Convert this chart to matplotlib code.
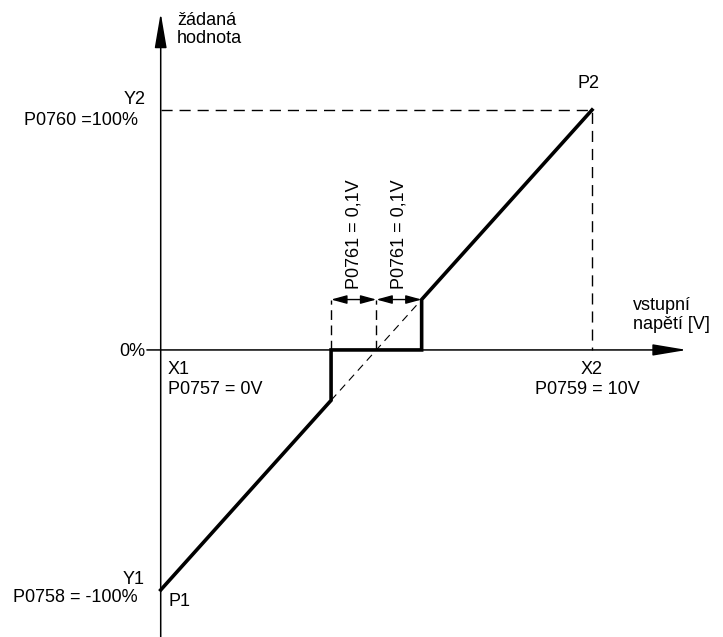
import matplotlib
matplotlib.use('Agg')
import matplotlib.pyplot as plt

plt.rcParams['font.family'] = ['Liberation Sans', 'DejaVu Sans']

# characteristic (x in V, y in %)
x_min, x_max = 0.0, 10.0          # P0757, P0759
y_min, y_max = -100.0, 100.0      # P0758, P0760
db_center = 5.0                   # dead band centre (drawn, schematic)
db_half = 1.05                    # drawn half width of dead band
db_label = 'P0761 = 0,1V'

x_curve = [x_min, db_center - db_half, db_center - db_half,
           db_center + db_half, db_center + db_half, x_max]
y_curve = [y_min, y_min + 20 * (db_center - db_half), 0.0,
           0.0, y_min + 20 * (db_center + db_half), y_max]

fig = plt.figure(figsize=(7.23, 6.37), dpi=100)
ax = fig.add_axes([0, 0, 1, 1])
ax.set_xlim(-3.726, 13.037)
ax.set_ylim(-119.6, 145.8)
ax.axis('off')

# axes with arrows
ax.annotate('', xy=(0, 140.4), xytext=(0, -120),
            arrowprops=dict(arrowstyle='-|>,head_length=21.6,head_width=3.7',
                            mutation_scale=1, lw=1.1, color='black',
                            shrinkA=0, shrinkB=0))
ax.annotate('', xy=(12.2, 0), xytext=(-0.32, 0),
            arrowprops=dict(arrowstyle='-|>,head_length=21,head_width=3.5',
                            mutation_scale=1, lw=1.1, color='black',
                            shrinkA=0, shrinkB=0))

# dashed helpers
ax.plot([x_min, x_max, x_max], [y_max, y_max, 0], color='black', lw=1.0,
        dashes=(8, 5))
y_top = y_curve[4]
ax.plot([x_curve[1], x_curve[1]], [0, y_top], color='black', lw=1.0, dashes=(7, 4))
ax.plot([db_center, db_center], [0, y_top], color='black', lw=1.0, dashes=(7, 4))
ax.plot([x_curve[1], x_curve[4]], [y_curve[1], y_curve[4]], color='black',
        lw=0.8, dashes=(7, 5))

# characteristic
ax.plot(x_curve, y_curve, color='black', lw=2.6, solid_joinstyle='miter')

# dimension arrows
for xa, xb in [(x_curve[1], db_center), (db_center, x_curve[4])]:
    ax.annotate('', xy=(xb, y_top), xytext=(xa, y_top),
                arrowprops=dict(arrowstyle='<|-|>,head_length=9.5,head_width=2.6',
                                mutation_scale=1, lw=1.0, color='black',
                                shrinkA=0, shrinkB=0))
    ax.text((xa + xb) / 2, 25.4, db_label, rotation=90, ha='center',
            va='bottom', fontsize=13)

fs = 13
ax.text(0.378, 141, 'žádaná\nhodnota', ha='left', va='top', fontsize=fs,
        linespacing=1.1)
ax.text(-0.34, 104.2, 'Y2', ha='right', va='center', fontsize=fs)
ax.text(-0.526, 95.4, 'P0760 =100%', ha='right', va='center', fontsize=fs)
ax.text(9.93, 111, 'P2', ha='center', va='center', fontsize=fs)
ax.text(10.95, 14.6, 'vstupní\nnapětí [V]', ha='left', va='center',
        fontsize=fs, linespacing=1.1)
ax.text(10.0, -8.3, 'X2', ha='center', va='center', fontsize=fs)
ax.text(9.9, -16.3, 'P0759 = 10V', ha='center', va='center', fontsize=fs)
ax.text(-0.364, -0.8, '0%', ha='right', va='center', fontsize=fs)
ax.text(0.17, -8.3, 'X1', ha='left', va='center', fontsize=fs)
ax.text(0.17, -16.3, 'P0757 = 0V', ha='left', va='center', fontsize=fs)
ax.text(-0.364, -95.8, 'Y1', ha='right', va='center', fontsize=fs)
ax.text(-0.526, -103.3, 'P0758 = -100%', ha='right', va='center', fontsize=fs)
ax.text(0.17, -105, 'P1', ha='left', va='center', fontsize=fs)

fig.savefig('out.png', dpi=100)
